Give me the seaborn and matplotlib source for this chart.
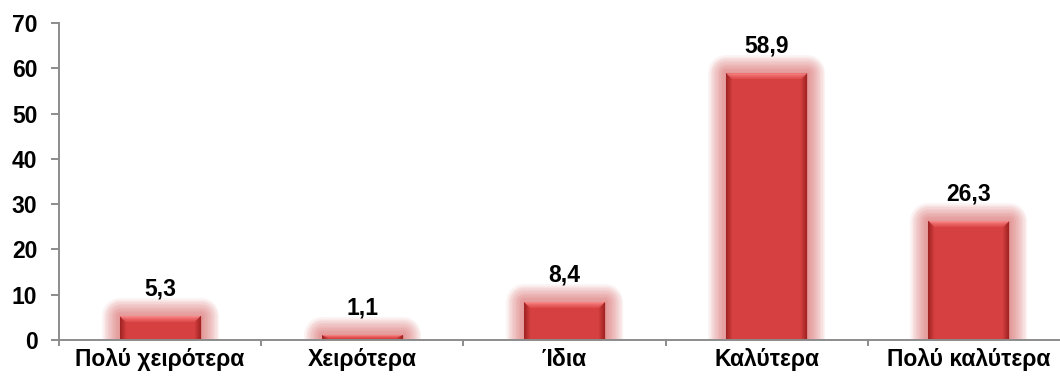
import numpy as np
import matplotlib
matplotlib.use("Agg")
import matplotlib.pyplot as plt
import matplotlib.patheffects as pe
from matplotlib.colors import LinearSegmentedColormap
from matplotlib.patches import Polygon
import seaborn as sns
import pandas as pd

categories = ["Πολύ χειρότερα", "Χειρότερα", "Ίδια", "Καλύτερα", "Πολύ καλύτερα"]
values = [5.3, 1.1, 8.4, 58.9, 26.3]
value_labels = ["5,3", "1,1", "8,4", "58,9", "26,3"]
y_ticks = [0, 10, 20, 30, 40, 50, 60, 70]

sns.set_theme(style="white")
plt.rcParams["font.family"] = ["Liberation Sans", "DejaVu Sans"]

FS = 16.5
fig = plt.figure(figsize=(10.6, 3.78), dpi=100)
# plot area runs slightly past the right edge of the canvas
ax = fig.add_axes([59 / 1060, 1 - 340 / 378, 1011 / 1060, (340 - 23) / 378])

df = pd.DataFrame({"cat": categories, "val": values})
sns.barplot(data=df, x="cat", y="val", color="#D64040", width=0.4,
            saturation=1, ax=ax, zorder=3)

# soft pink halo around each bar
glow = []
for lw in range(26, 0, -2):
    glow.append(pe.Stroke(linewidth=lw, foreground="#DA5A5A", alpha=0.065,
                          joinstyle="round"))
glow.append(pe.Normal())

cmap_h = LinearSegmentedColormap.from_list(
    "bevel_h", ["#9E2222", "#D64040", "#D84242"])
cmap_t = LinearSegmentedColormap.from_list(
    "bevel_t", [(0.93, 0.38, 0.38, 0.35), (0.99, 0.56, 0.56, 1.0)])

units_per_px = 70 / 317.0
for i, patch in enumerate(ax.patches):
    patch.set_edgecolor("none")
    patch.set_path_effects(glow)
    x0 = patch.get_x()
    w = patch.get_width()
    h = patch.get_height()
    # horizontal shading: darker sides, flat centre
    t = np.linspace(0, 1, 300)
    edge = np.clip(np.minimum(t, 1 - t) / 0.08, 0, 1)
    grad = (0.5 * edge).reshape(1, -1)
    im = ax.imshow(grad, cmap=cmap_h, vmin=0, vmax=1, aspect="auto",
                   extent=(x0, x0 + w, 0, h), zorder=4, interpolation="bilinear")
    im.set_clip_path(patch)
    # lighter trapezoid bevel along the top edge
    top = min(6 * units_per_px, h * 0.6)
    inset = w * 0.07
    bevel = Polygon([(x0, h), (x0 + w, h), (x0 + w - inset, h - top),
                     (x0 + inset, h - top)], closed=True, transform=ax.transData,
                    facecolor="none", edgecolor="none")
    ax.add_patch(bevel)
    tgrad = np.linspace(0, 1, 60).reshape(-1, 1)
    im2 = ax.imshow(tgrad, cmap=cmap_t, vmin=0, vmax=1, aspect="auto",
                    origin="lower", extent=(x0, x0 + w, h - top, h),
                    zorder=5, interpolation="bilinear")
    im2.set_clip_path(bevel)
    ax.text(x0 + w / 2, h + 3.4, value_labels[i],
            ha="center", va="bottom", fontsize=FS, fontweight="bold",
            color="#000000", zorder=6)

ax.set_xlim(-0.5, len(categories) - 0.5)
ax.set_ylim(0, 70)
ax.set_yticks(y_ticks)
ax.set_yticklabels([str(t) for t in y_ticks], fontsize=FS, fontweight="bold",
                   color="#000000")
ax.set_xticks(range(len(categories)))
ax.set_xticklabels(categories, fontsize=FS, fontweight="bold", color="#000000")
ax.set_xlabel("")
ax.set_ylabel("")

for side in ["top", "right"]:
    ax.spines[side].set_visible(False)
for side in ["left", "bottom"]:
    ax.spines[side].set_color("#8C8C8C")
    ax.spines[side].set_linewidth(1.4)
    ax.spines[side].set_zorder(7)

ax.tick_params(axis="y", direction="out", length=5.5, width=1.4, color="#8C8C8C",
               pad=10, left=True)
ax.tick_params(axis="x", length=0, pad=6)
# tick marks between categories on the x axis
ax.set_xticks(np.arange(-0.5, len(categories), 1.0), minor=True)
ax.tick_params(axis="x", which="minor", direction="out", length=4.5, width=1.4,
               color="#8C8C8C", bottom=True)

fig.savefig("out.png", dpi=100, facecolor="white")
